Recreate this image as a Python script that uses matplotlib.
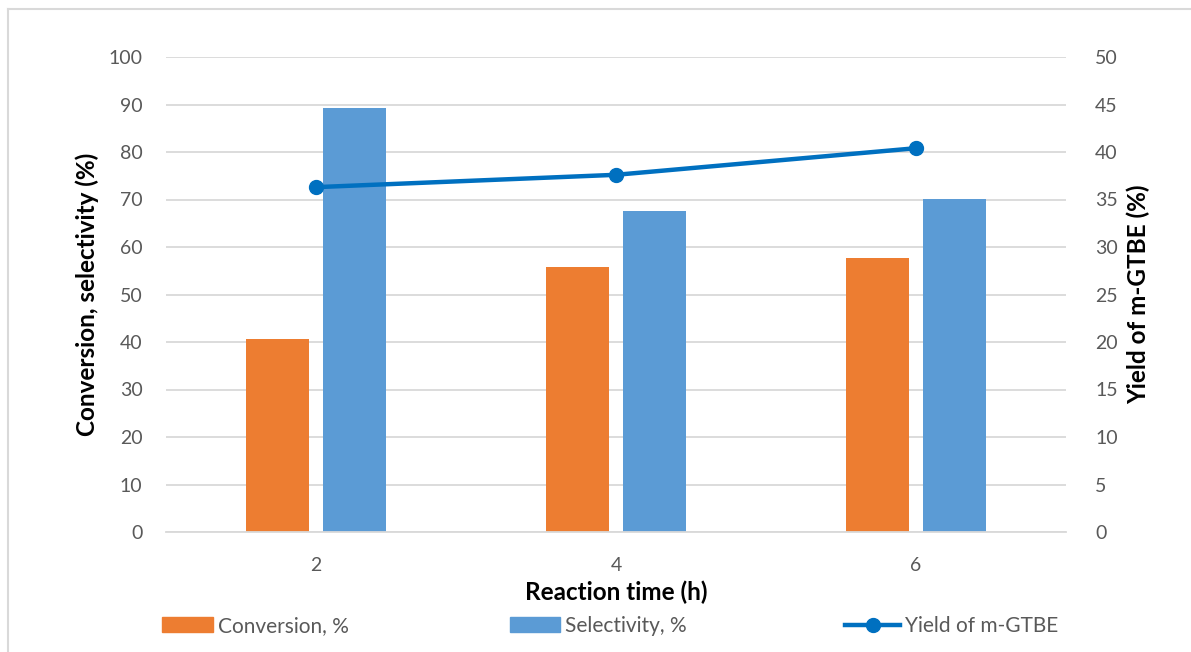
import matplotlib
matplotlib.use("Agg")
import matplotlib.pyplot as plt
from matplotlib.lines import Line2D
from matplotlib.patches import Patch
import numpy as np

plt.rcParams['font.family'] = ['Lato', 'DejaVu Sans']

# Data
times = ["2", "4", "6"]
conversion = [40.7, 55.7, 57.7]
selectivity = [89.2, 67.5, 70.1]
yield_mgtbe = [36.3, 37.6, 40.4]

orange = "#ED7D31"
blue = "#5B9BD5"
line_blue = "#0070C0"
grid_gray = "#D9D9D9"
text_gray = "#595959"

W, H = 1191, 652
fig = plt.figure(figsize=(W / 100, H / 100), dpi=100)

ax = fig.add_axes([166 / W, 1 - 532 / H, 900 / W, 475 / H])
x = np.arange(len(times))
bw = 0.21
off = 0.128
ax.bar(x - off, conversion, width=bw, color=orange, zorder=2)
ax.bar(x + off, selectivity, width=bw, color=blue, zorder=2)

ax.set_xlim(-0.5, 2.5)
ax.set_ylim(0, 100)
ax.set_yticks(np.arange(0, 101, 10))
ax.set_xticks(x)
ax.set_xticklabels(times)
ax.yaxis.grid(True, color=grid_gray, linewidth=1.3, zorder=0)
ax.set_axisbelow(True)
for s in ["top", "right", "left"]:
    ax.spines[s].set_visible(False)
ax.spines["bottom"].set_color(grid_gray)
ax.spines["bottom"].set_linewidth(1.3)
ax.tick_params(axis="both", length=0, labelsize=14, labelcolor=text_gray)
ax.tick_params(axis="y", pad=17)
ax.tick_params(axis="x", pad=18)
ax.set_xlabel("Reaction time (h)", fontsize=17.5, fontweight="bold", labelpad=5)
ax.set_ylabel("Conversion, selectivity (%)", fontsize=17.5, fontweight="bold", labelpad=7)

ax2 = ax.twinx()
ax2.plot(x, yield_mgtbe, color=line_blue, linewidth=3.2, marker="o",
         markersize=10, zorder=3)
ax2.set_ylim(0, 50)
ax2.set_yticks(np.arange(0, 51, 5))
for s in ["top", "right", "left", "bottom"]:
    ax2.spines[s].set_visible(False)
ax2.tick_params(axis="y", length=0, labelsize=14, labelcolor=text_gray, pad=21)
ax2.set_ylabel("Yield of m-GTBE (%)", fontsize=17.5, fontweight="bold", labelpad=6)

# Legend entries placed along the bottom
entries = [
    (Patch(color=orange), "Conversion, %", 162, 2.45),
    (Patch(color=blue), "Selectivity, %", 510, 2.4),
    (Line2D([0], [0], color=line_blue, linewidth=3.2, marker="o", markersize=10),
     "Yield of m-GTBE", 845, 2.65),
]
for handle, label, px, hl in entries:
    fig.legend([handle], [label], loc="center left",
               bbox_to_anchor=(px / W, 1 - 626 / H), frameon=False,
               fontsize=15, labelcolor=text_gray, handlelength=hl,
               handleheight=0.75, handletextpad=0.25, borderaxespad=0,
               borderpad=0)

# Chart frame
fig.add_artist(Line2D([8 / W, 8 / W], [0, 1 - 9 / H], transform=fig.transFigure,
                      color=grid_gray, linewidth=1.5))
fig.add_artist(Line2D([8 / W, 1], [1 - 9 / H, 1 - 9 / H], transform=fig.transFigure,
                      color=grid_gray, linewidth=1.5))

fig.savefig("out.png", dpi=100)
